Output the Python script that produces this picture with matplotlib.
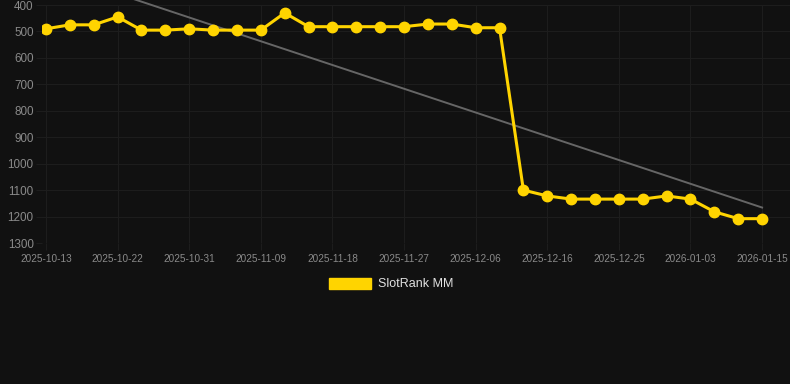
import matplotlib
matplotlib.use("Agg")
import matplotlib.pyplot as plt
from matplotlib.patches import Patch
import numpy as np

dates = ["2025-10-13", "2025-10-16", "2025-10-19", "2025-10-22", "2025-10-25",
         "2025-10-28", "2025-10-31", "2025-11-03", "2025-11-06", "2025-11-09",
         "2025-11-12", "2025-11-15", "2025-11-18", "2025-11-21", "2025-11-24",
         "2025-11-27", "2025-11-30", "2025-12-03", "2025-12-06", "2025-12-09",
         "2025-12-12", "2025-12-16", "2025-12-19", "2025-12-22", "2025-12-25",
         "2025-12-28", "2025-12-31", "2026-01-03", "2026-01-07", "2026-01-11",
         "2026-01-15"]
rank = [490, 475, 475, 445, 495, 495, 490, 495, 495, 495,
        430, 482, 482, 482, 482, 482, 472, 472, 486, 486,
        1100, 1122, 1134, 1134, 1134, 1134, 1122, 1134, 1182, 1208,
        1208]
y_ticks = [400, 500, 600, 700, 800, 900, 1000, 1100, 1200, 1300]
series_name = "SlotRank MM"

BG = "#111111"
GRID = "#1d1d1d"
TXT = "#8a8a8a"
GOLD = "#FFD400"

plt.rcParams["font.family"] = ["Liberation Sans", "DejaVu Sans"]

fig = plt.figure(figsize=(7.9, 3.84), dpi=100, facecolor=BG)
ax = fig.add_axes([42 / 790, (384 - 243) / 384, (790 - 42) / 790, 238 / 384])
ax.set_facecolor(BG)

x = np.arange(len(rank))
ax.plot(x, rank, color=GOLD, lw=2.2, marker="o", ms=7.5, mec=GOLD, mfc=GOLD, zorder=3)

coef = np.polyfit(x, rank, 1)
trend = np.polyval(coef, x)
ax.plot([x[0], x[-1]], [trend[0], trend[-1]], color="#666666", lw=1.4, zorder=2, clip_on=False)

ax.set_ylim(1300, 400)
ax.set_yticks(y_ticks)
ax.set_yticklabels([str(v) for v in y_ticks])
ax.set_xlim(-4 / 23.87, (790 - 42 - 4) / 23.87)
tick_idx = list(range(0, len(dates), 3))
ax.set_xticks(tick_idx)
ax.set_xticklabels([dates[i] for i in tick_idx])

ax.grid(True, color=GRID, lw=0.8)
for s in ax.spines.values():
    s.set_visible(False)
ax.tick_params(axis="y", colors=GRID, labelcolor=TXT, labelsize=8.4, length=4, pad=2)
ax.tick_params(axis="x", colors=GRID, labelcolor=TXT, labelsize=7.2, length=5, pad=3)

handles = [Patch(facecolor=GOLD, edgecolor=GOLD, label=series_name)]
fig.legend(handles=handles, loc="center", bbox_to_anchor=(391 / 790, 1 - 284 / 384),
           frameon=False, fontsize=9, labelcolor="#e0e0e0",
           handlelength=3.4, handleheight=1.0, handletextpad=0.5)

fig.savefig("out.png", dpi=100, facecolor=BG)
